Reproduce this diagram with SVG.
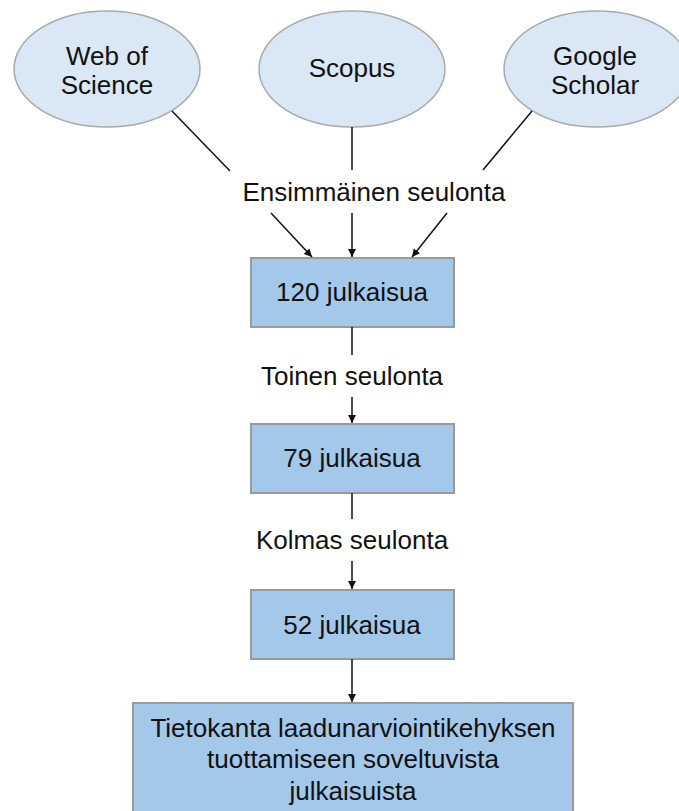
<svg xmlns="http://www.w3.org/2000/svg" width="679" height="811" viewBox="0 0 679 811">
<style>
.ell{fill:#dae7f5;stroke:#a9a9a9;stroke-width:1.5}
.box{fill:#a4c8ea;stroke:#9a9a9a;stroke-width:2}
.t{font-family:"Liberation Sans",Arial,sans-serif;font-size:26px;fill:#111;text-anchor:middle}
.ln{stroke:#111;stroke-width:1.5;fill:none}
</style>
<defs>
<marker id="ah" viewBox="0 0 10 10" refX="10" refY="5" markerWidth="8" markerHeight="8" markerUnits="userSpaceOnUse" orient="auto">
<path d="M0,0 L10,5 L0,10 z" fill="#111"/>
</marker>
</defs>
<rect width="679" height="811" fill="#fff"/>
<g id="wos">
<ellipse class="ell" cx="107" cy="69" rx="93" ry="58"/>
<text class="t" x="107" y="65">Web of</text>
<text class="t" x="107" y="94">Science</text>
</g>
<g id="scopus">
<ellipse class="ell" cx="352" cy="69" rx="93" ry="58"/>
<text class="t" x="352" y="77">Scopus</text>
</g>
<g id="gs">
<ellipse class="ell" cx="597" cy="69" rx="93" ry="58"/>
<text class="t" x="595" y="65">Google</text>
<text class="t" x="595" y="94">Scholar</text>
</g>
<g id="label1"><text class="t" x="374" y="201">Ensimmäinen seulonta</text></g>
<g id="b120">
<rect class="box" x="251" y="258" width="203" height="69"/>
<text class="t" x="352" y="301">120 julkaisua</text>
</g>
<g id="label2"><text class="t" x="352" y="385">Toinen seulonta</text></g>
<g id="b79">
<rect class="box" x="251" y="424" width="203" height="69"/>
<text class="t" x="352" y="467">79 julkaisua</text>
</g>
<g id="label3"><text class="t" x="352" y="549">Kolmas seulonta</text></g>
<g id="b52">
<rect class="box" x="251" y="590" width="203" height="69"/>
<text class="t" x="352" y="634">52 julkaisua</text>
</g>
<g id="db">
<rect class="box" x="133" y="703" width="440" height="120"/>
<text class="t" x="353" y="737">Tietokanta laadunarviointikehyksen</text>
<text class="t" x="353" y="768">tuottamiseen soveltuvista</text>
<text class="t" x="353" y="800">julkaisuista</text>
</g>
<g id="connectors">
<line class="ln" x1="172" y1="111" x2="230" y2="171"/>
<line class="ln" x1="352" y1="127" x2="352" y2="170"/>
<line class="ln" x1="532" y1="111" x2="483" y2="170"/>
<line class="ln" x1="271" y1="213" x2="312" y2="257" marker-end="url(#ah)"/>
<line class="ln" x1="352" y1="213" x2="352" y2="257" marker-end="url(#ah)"/>
<line class="ln" x1="447" y1="213" x2="412" y2="257" marker-end="url(#ah)"/>
<line class="ln" x1="352" y1="327" x2="352" y2="355"/>
<line class="ln" x1="352" y1="397" x2="352" y2="423" marker-end="url(#ah)"/>
<line class="ln" x1="352" y1="493" x2="352" y2="519"/>
<line class="ln" x1="352" y1="561" x2="352" y2="589" marker-end="url(#ah)"/>
<line class="ln" x1="352" y1="659" x2="352" y2="702" marker-end="url(#ah)"/>
</g>
</svg>
